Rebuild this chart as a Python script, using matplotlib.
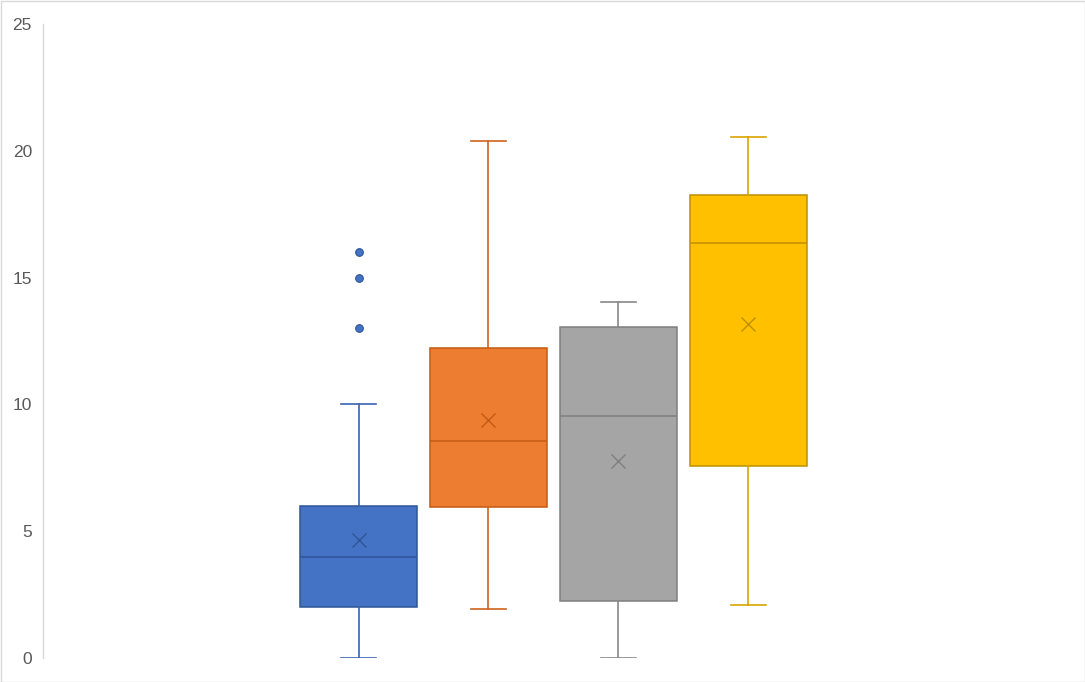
import matplotlib
matplotlib.use("Agg")
import matplotlib.pyplot as plt
from matplotlib.patches import Rectangle

# Data
series = ["Series 1", "Series 2", "Series 3", "Series 4"]
whislo = [0.0, 1.93, 0.0, 2.09]
q1 = [2.0, 5.95, 2.25, 7.57]
med = [4.0, 8.56, 9.54, 16.36]
q3 = [6.0, 12.22, 13.05, 18.26]
whishi = [10.0, 20.39, 14.04, 20.54]
means = [4.65, 9.38, 7.77, 13.17]
fliers = [[13.0, 15.0, 16.0], [], [], []]

fills = ["#4472C4", "#ED7D31", "#A5A5A5", "#FFC000"]
edges = ["#2F5597", "#C55A11", "#7F7F7F", "#BF9000"]
whisk = ["#3A64B4", "#D0621E", "#888888", "#D9A400"]

yticks = [0, 5, 10, 15, 20, 25]

fig = plt.figure(figsize=(10.85, 6.82), dpi=100)
ax = fig.add_axes([43/1085, 24/682, (1065-43)/1085, 634/682])

for i in range(len(series)):
    stats = [dict(med=med[i], q1=q1[i], q3=q3[i], whislo=whislo[i],
                  whishi=whishi[i], mean=means[i], fliers=fliers[i])]
    ax.bxp(stats, positions=[i + 1], widths=0.9, patch_artist=True,
           showmeans=True, showfliers=True, manage_ticks=False,
           boxprops=dict(facecolor=fills[i], edgecolor=edges[i], linewidth=1.1),
           medianprops=dict(color=edges[i], linewidth=1.1),
           whiskerprops=dict(color=whisk[i], linewidth=1.2),
           capprops=dict(color=whisk[i], linewidth=1.2),
           capwidths=0.27,
           meanprops=dict(marker="x", markeredgecolor=edges[i], markersize=10,
                          markeredgewidth=1.0, linestyle="none"),
           flierprops=dict(marker="o", markerfacecolor=fills[i],
                           markeredgecolor=edges[i], markersize=5.5,
                           markeredgewidth=0.8, linestyle="none"))

ax.set_xlim(-1.43, 6.44)
ax.set_ylim(0, 25)
ax.set_yticks(yticks)
ax.set_yticklabels([str(t) for t in yticks], fontfamily="Liberation Sans",
                   fontsize=12.5, color="#595959")
ax.tick_params(axis="y", length=0, pad=8)
ax.set_xticks([])
for s in ["top", "right", "bottom"]:
    ax.spines[s].set_visible(False)
ax.spines["left"].set_color("#D9D9D9")
ax.spines["left"].set_linewidth(1.0)

fig.patches.append(Rectangle((0.5/1085, 0.5/682), 1 - 1/1085, 1 - 1/682,
                             transform=fig.transFigure, fill=False,
                             edgecolor="#D9D9D9", linewidth=1.0))

fig.savefig("out.png", dpi=100)
